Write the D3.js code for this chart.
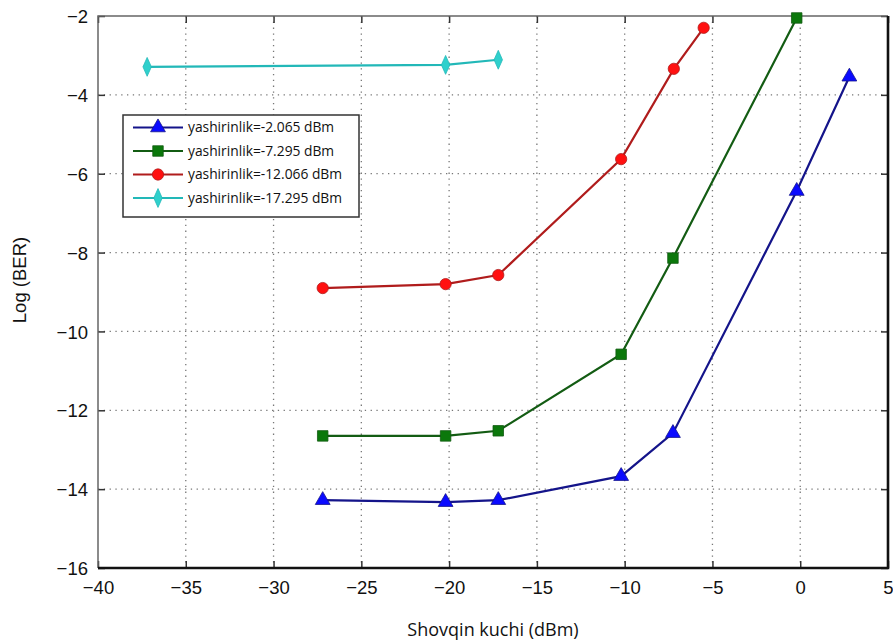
<!DOCTYPE html>
<html lang="en">
  <head>
    <meta charset="utf-8" />
    <title>Log (BER)</title>
    <script type="text/javascript" src="https://cdn.jsdelivr.net/npm/d3@7"></script>
    <style>
      body { margin: 0; background: white; }
    </style>
  </head>
  <body>
    <script type="text/javascript">
// values
var legendNames = ["yashirinlik=-2.065 dBm", "yashirinlik=-7.295 dBm",
                   "yashirinlik=-12.066 dBm", "yashirinlik=-17.295 dBm"];
var powerBlue  = [-27.2, -20.2, -17.2, -10.2, -7.25, -0.2, 2.8];
var berBlue    = [-14.28, -14.33, -14.28, -13.67, -12.58, -6.44, -3.54];
var powerGreen = [-27.2, -20.2, -17.2, -10.2, -7.25, -0.2];
var berGreen   = [-12.65, -12.65, -12.52, -10.58, -8.14, -2.05];
var powerRed   = [-27.2, -20.2, -17.2, -10.2, -7.2, -5.5];
var berRed     = [-8.9, -8.8, -8.57, -5.63, -3.34, -2.3];
var powerCyan  = [-37.2, -20.2, -17.2];
var berCyan    = [-3.29, -3.24, -3.11];
var xTicks = [-40, -35, -30, -25, -20, -15, -10, -5, 0, 5];
var yTicks = [-16, -14, -12, -10, -8, -6, -4, -2];

var w = 893;
var h = 641;
var pad = { left: 98, right: 5, top: 16, bottom: 73 };

var series = [
  { name: legendNames[0], xs: powerBlue,  ys: berBlue,  line: "#14148a", fill: "#0a0aff", shape: d3.symbolTriangle, size: 95 },
  { name: legendNames[1], xs: powerGreen, ys: berGreen, line: "#135c13", fill: "#0b780b", shape: d3.symbolSquare,   size: 110 },
  { name: legendNames[2], xs: powerRed,   ys: berRed,   line: "#b01c1c", fill: "#ff1010", shape: d3.symbolCircle,   size: 100 },
  { name: legendNames[3], xs: powerCyan,  ys: berCyan,  line: "#22b8b8", fill: "#2fd0cc", shape: d3.symbolDiamond,  size: 85 }
];

var svg = d3.select("body")
            .append("svg")
            .attr("width", w)
            .attr("height", h);

var xScale = d3.scaleLinear()
               .domain([-40, 5])
               .range([pad.left, w - pad.right]);
var yScale = d3.scaleLinear()
               .domain([-16, -2])
               .range([h - pad.bottom, pad.top]);

var x0 = xScale(-40), x1 = xScale(5), y0 = yScale(-16), y1 = yScale(-2);

// dotted grid
var grid = svg.append("g").attr("id", "grid")
              .attr("stroke", "#777")
              .attr("stroke-width", 1.3)
              .attr("stroke-dasharray", "1.3,4.5");
grid.selectAll("line.gx")
    .data(xTicks.slice(1, -1))
    .enter().append("line")
    .attr("x1", function(d) { return xScale(d); })
    .attr("x2", function(d) { return xScale(d); })
    .attr("y1", y1).attr("y2", y0);
grid.selectAll("line.gy")
    .data(yTicks.slice(1, -1))
    .enter().append("line")
    .attr("y1", function(d) { return yScale(d); })
    .attr("y2", function(d) { return yScale(d); })
    .attr("x1", x0).attr("x2", x1);

// axes (MATLAB style, ticks inside)
var font = "'Liberation Sans', Arial, sans-serif";
var xAxis = svg.append("g")
   .attr("transform", "translate(0," + y0 + ")")
   .call(d3.axisBottom(xScale).tickValues(xTicks).tickSizeInner(-7).tickSizeOuter(0).tickPadding(13));
var xAxisTop = svg.append("g")
   .attr("transform", "translate(0," + y1 + ")")
   .call(d3.axisTop(xScale).tickValues(xTicks).tickSizeInner(-7).tickSizeOuter(0).tickFormat(""));
var yAxis = svg.append("g")
   .attr("transform", "translate(" + x0 + ",0)")
   .call(d3.axisLeft(yScale).tickValues(yTicks).tickSizeInner(-7).tickSizeOuter(0).tickPadding(10));
var yAxisRight = svg.append("g")
   .attr("transform", "translate(" + x1 + ",0)")
   .call(d3.axisRight(yScale).tickValues(yTicks).tickSizeInner(-7).tickSizeOuter(0).tickFormat(""));

[xAxis, xAxisTop, yAxis, yAxisRight].forEach(function(a) {
  a.select(".domain").remove();
  a.selectAll(".tick line").attr("stroke", "#333").attr("stroke-width", 1.5);
  a.selectAll("text")
   .attr("font-family", font)
   .attr("font-size", "18.5px")
   .attr("fill", "#111");
});
xAxis.selectAll("text").attr("dy", "0.71em");
yAxis.selectAll("text").attr("dy", "0.36em");

// frame
svg.append("path")
   .attr("d", "M" + x0 + "," + y0 + "V" + y1 + "H" + x1)
   .attr("fill", "none").attr("stroke", "#666").attr("stroke-width", 1.5);
svg.append("path")
   .attr("d", "M" + x0 + "," + y0 + "H" + x1 + "V" + y1)
   .attr("fill", "none").attr("stroke", "#111").attr("stroke-width", 2.6);

// series lines and markers
var line = d3.line()
             .x(function(d) { return xScale(d[0]); })
             .y(function(d) { return yScale(d[1]); });

var groups = svg.append("g").attr("id", "series")
   .selectAll("g")
   .data(series)
   .enter().append("g");

groups.append("path")
      .attr("d", function(s) { return line(d3.zip(s.xs, s.ys)); })
      .attr("fill", "none")
      .attr("stroke", function(s) { return s.line; })
      .attr("stroke-width", 2.2);

groups.each(function(s) {
  d3.select(this).selectAll("path.mark")
    .data(d3.zip(s.xs, s.ys))
    .enter().append("path")
    .attr("class", "mark")
    .attr("d", d3.symbol().type(s.shape).size(s.size))
    .attr("transform", function(d) {
      return "translate(" + xScale(d[0]) + "," + yScale(d[1]) + ")" +
             (s.shape === d3.symbolDiamond ? " scale(0.85,1.1)" : "");
    })
    .attr("fill", s.fill)
    .attr("stroke", s.line)
    .attr("stroke-width", 0.8);
});

// legend
var legend = svg.append("g").attr("id", "legend")
                .attr("transform", "translate(123,115)");
legend.append("rect")
      .attr("width", 236)
      .attr("height", 102)
      .attr("fill", "white")
      .attr("stroke", "#333")
      .attr("stroke-width", 1.5);
var rows = legend.selectAll("g.row")
   .data(series)
   .enter().append("g")
   .attr("class", "row")
   .attr("transform", function(d, i) { return "translate(0," + (12.5 + i * 23.5) + ")"; });
rows.append("line")
    .attr("x1", 10).attr("x2", 60)
    .attr("stroke", function(s) { return s.line; })
    .attr("stroke-width", 2.2);
rows.append("path")
    .attr("d", function(s) { return d3.symbol().type(s.shape).size(s.size)(); })
    .attr("transform", function(s) {
      return "translate(35,0)" + (s.shape === d3.symbolDiamond ? " scale(0.85,1.1)" : "");
    })
    .attr("fill", function(s) { return s.fill; })
    .attr("stroke", function(s) { return s.line; })
    .attr("stroke-width", 0.8);
rows.append("text")
    .text(function(s) { return s.name; })
    .attr("x", 65)
    .attr("dy", "0.35em")
    .attr("font-family", "'Open Sans', sans-serif")
    .attr("font-size", "13.8px")
    .attr("fill", "#111");

// axis titles
svg.append("text")
   .text("Shovqin kuchi (dBm)")
   .attr("x", (x0 + x1) / 2)
   .attr("y", 636)
   .attr("text-anchor", "middle")
   .attr("font-family", "'Open Sans', sans-serif")
   .attr("font-size", "18px")
   .attr("fill", "#111");
svg.append("text")
   .text("Log (BER)")
   .attr("transform", "translate(26,280) rotate(-90)")
   .attr("text-anchor", "middle")
   .attr("font-family", font)
   .attr("font-size", "18.5px")
   .attr("fill", "#111");
    </script>
  </body>
</html>
